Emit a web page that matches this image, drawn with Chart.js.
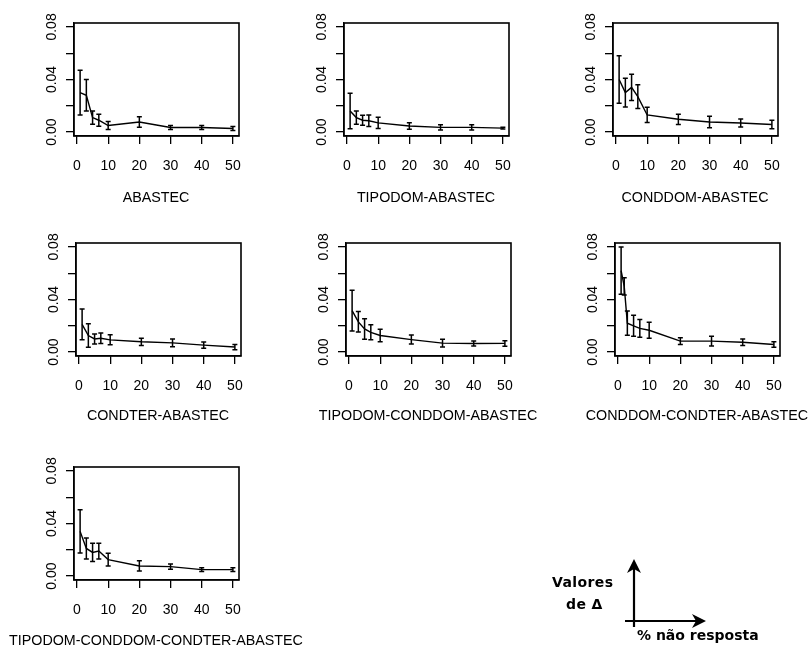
<!DOCTYPE html>
<html>
<head>
<meta charset="utf-8">
<script src="https://cdn.jsdelivr.net/npm/chart.js@4.4.1/dist/chart.umd.min.js"></script>
<style>
body { margin: 0; background: #fff; width: 808px; height: 646px; position: relative; overflow: hidden; font-family: "Liberation Sans", Arial, sans-serif; }
canvas { position: absolute; }
.ttl { position: absolute; font-size: 14.3px; white-space: nowrap; transform: translate(-50%, -50%); color: #000; }
.leg { position: absolute; font-family: "DejaVu Sans", sans-serif; font-weight: bold; font-size: 14px; color: #000; white-space: nowrap; }
</style>
</head>
<body>
<canvas id="c1" width="270" height="180" style="left:0px;top:0px"></canvas>
<canvas id="c2" width="270" height="180" style="left:270px;top:0px"></canvas>
<canvas id="c3" width="270" height="180" style="left:539px;top:0px"></canvas>
<canvas id="c4" width="270" height="180" style="left:2px;top:220px"></canvas>
<canvas id="c5" width="270" height="180" style="left:272px;top:220px"></canvas>
<canvas id="c6" width="270" height="180" style="left:541px;top:220px"></canvas>
<canvas id="c7" width="270" height="180" style="left:0px;top:444px"></canvas>

<svg width="808" height="646" style="position:absolute;left:0;top:0">
  <g stroke="#000" stroke-width="2.2" fill="none">
    <line x1="634" y1="627" x2="634" y2="566"/>
    <line x1="625" y1="621" x2="699" y2="621"/>
  </g>
  <path d="M634,559 L627,573 L634,569 L641,573 Z" fill="#000"/>
  <path d="M706,621 L692,614 L696,621 L692,628 Z" fill="#000"/>
</svg>
<div class="leg" style="left:552px;top:574px;letter-spacing:0.4px">Valores</div>
<div class="leg" style="left:566px;top:596px;letter-spacing:0.4px">de Δ</div>
<div class="leg" style="left:637px;top:627px">% não resposta</div>

<script>
// valores
var xVals = [1, 3, 5, 7, 10, 20, 30, 40, 50];
var xVals6 = [1, 2, 3, 5, 7, 10, 20, 30, 40, 50];
var xTicks = [0, 10, 20, 30, 40, 50];
var yTicks = [0, 0.02, 0.04, 0.06, 0.08];
var yTickLabels = ['0.00', '', '0.04', '', '0.08'];

var titles = ['ABASTEC', 'TIPODOM-ABASTEC', 'CONDDOM-ABASTEC', 'CONDTER-ABASTEC',
    'TIPODOM-CONDDOM-ABASTEC', 'CONDDOM-CONDTER-ABASTEC', 'TIPODOM-CONDDOM-CONDTER-ABASTEC'];

var media1 = [0.030, 0.028, 0.011, 0.009, 0.005, 0.0077, 0.0035, 0.0035, 0.0027];
var erro1  = [0.017, 0.012, 0.005, 0.0045, 0.003, 0.004, 0.0015, 0.0015, 0.0015];
var media2 = [0.016, 0.011, 0.009, 0.0086, 0.007, 0.0046, 0.0036, 0.0036, 0.003];
var erro2  = [0.0135, 0.005, 0.0038, 0.0043, 0.0042, 0.0025, 0.002, 0.002, 0.0007];
var media3 = [0.040, 0.030, 0.034, 0.027, 0.013, 0.0097, 0.0076, 0.0069, 0.0058];
var erro3  = [0.018, 0.011, 0.010, 0.009, 0.0058, 0.0039, 0.0044, 0.003, 0.0032];
var media4 = [0.021, 0.0126, 0.010, 0.0105, 0.0093, 0.0078, 0.007, 0.0053, 0.0038];
var erro4  = [0.0117, 0.009, 0.0038, 0.004, 0.0038, 0.0028, 0.003, 0.0024, 0.002];
var media5 = [0.0315, 0.023, 0.0176, 0.015, 0.0126, 0.0095, 0.0068, 0.0065, 0.0066];
var erro5  = [0.0155, 0.0078, 0.0078, 0.0057, 0.0048, 0.0034, 0.0029, 0.0019, 0.0021];
var media6 = [0.062, 0.050, 0.022, 0.020, 0.018, 0.0166, 0.0083, 0.0083, 0.0075, 0.0058];
var erro6  = [0.018, 0.0065, 0.0093, 0.008, 0.0067, 0.006, 0.0025, 0.0037, 0.0025, 0.0021];
var media7 = [0.034, 0.021, 0.018, 0.019, 0.0125, 0.0077, 0.0072, 0.0049, 0.0049];
var erro7  = [0.0165, 0.008, 0.007, 0.006, 0.0049, 0.0039, 0.002, 0.0015, 0.0015];

// barras de erro + caixa em volta do grafico
var barrasErro = {
    id: 'barrasErro',
    afterDatasetsDraw: function (chart) {
        var c = chart.ctx, sx = chart.scales.x, sy = chart.scales.y, a = chart.chartArea;
        c.save();
        c.strokeStyle = '#000';
        c.lineWidth = 1.5;
        chart.data.datasets.forEach(function (ds) {
            ds.data.forEach(function (p, i) {
                var px = sx.getPixelForValue(p.x);
                var t = sy.getPixelForValue(p.y + ds.erros[i]);
                var b = sy.getPixelForValue(p.y - ds.erros[i]);
                c.beginPath();
                c.moveTo(px, t); c.lineTo(px, b);
                c.moveTo(px - 2.5, t); c.lineTo(px + 2.5, t);
                c.moveTo(px - 2.5, b); c.lineTo(px + 2.5, b);
                c.stroke();
            });
        });
        c.lineWidth = 1.6;
        c.strokeRect(a.left, a.top, a.right - a.left, a.bottom - a.top);
        c.restore();
    }
};

function painel(id, xs, media, erro) {
    var ctx = document.getElementById(id).getContext('2d');
    var pts = xs.map(function (x, i) { return { x: x, y: media[i] }; });
    return new Chart(ctx, {
        type: 'line',
        data: {
            datasets: [{
                data: pts,
                erros: erro,
                borderColor: '#000',
                borderWidth: 1.4,
                pointRadius: 0,
                tension: 0,
                fill: false
            }]
        },
        options: {
            responsive: false,
            animation: false,
            layout: { padding: { top: 23, right: 31, left: 0, bottom: 0 } },
            plugins: { legend: { display: false }, tooltip: { enabled: false } },
            scales: {
                x: {
                    type: 'linear',
                    min: -0.96,
                    max: 51.96,
                    afterBuildTicks: function (s) { s.ticks = xTicks.map(function (v) { return { value: v }; }); },
                    afterFit: function (s) { s.height = 44; },
                    grid: { drawOnChartArea: false, tickLength: 8, color: '#000', lineWidth: 1.3 },
                    border: { color: '#000', width: 1.3 },
                    ticks: { color: '#000', font: { family: 'Liberation Sans', size: 14 }, padding: 14, maxRotation: 0, autoSkip: false }
                },
                y: {
                    min: -0.003,
                    max: 0.083,
                    afterBuildTicks: function (s) { s.ticks = yTicks.map(function (v) { return { value: v }; }); },
                    afterFit: function (s) { s.width = 74; },
                    grid: { drawOnChartArea: false, tickLength: 8, color: '#000', lineWidth: 1.3 },
                    border: { color: '#000', width: 1.3 },
                    ticks: {
                        color: '#000', font: { family: 'Liberation Sans', size: 14 },
                        minRotation: 90, maxRotation: 90, crossAlign: 'center', padding: 0, autoSkip: false,
                        callback: function (v, i) { return yTickLabels[i]; }
                    }
                }
            }
        },
        plugins: [barrasErro]
    });
}

painel('c1', xVals, media1, erro1);
painel('c2', xVals, media2, erro2);
painel('c3', xVals, media3, erro3);
painel('c4', xVals, media4, erro4);
painel('c5', xVals, media5, erro5);
painel('c6', xVals6, media6, erro6);
painel('c7', xVals, media7, erro7);

// titulos embaixo de cada grafico
var centros = [[156, 197], [426, 197], [695, 197], [158, 415], [428, 415], [697, 415], [156, 640]];
titles.forEach(function (t, i) {
    var d = document.createElement('div');
    d.className = 'ttl';
    d.textContent = t;
    d.style.left = centros[i][0] + 'px';
    d.style.top = centros[i][1] + 'px';
    document.body.appendChild(d);
});
</script>
</body>
</html>
